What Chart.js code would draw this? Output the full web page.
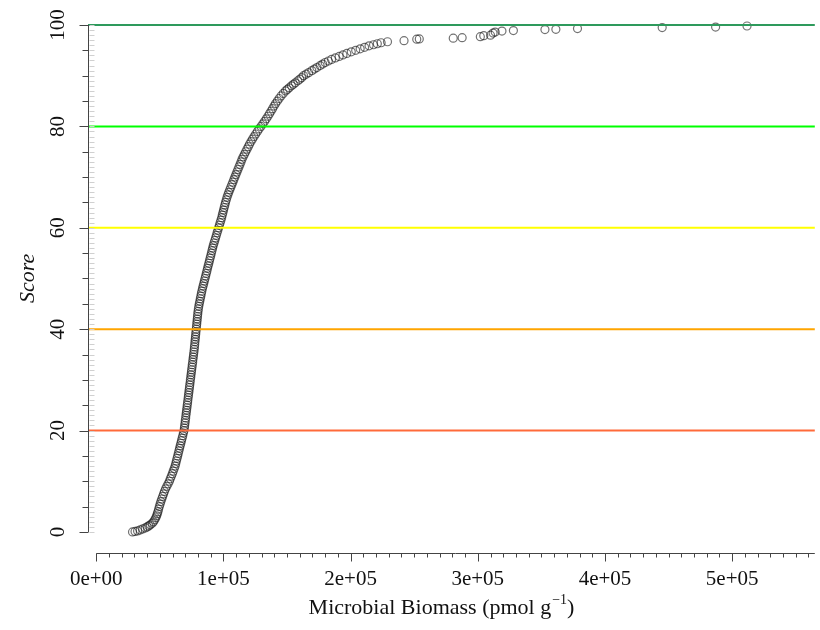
<!DOCTYPE html>
<html>
<head>
<meta charset="utf-8">
<script src="https://cdn.jsdelivr.net/npm/chart.js@4.4.1/dist/chart.umd.min.js"></script>
<style>
  html, body { margin: 0; padding: 0; background: #fff; }
  canvas { display: block; }
</style>
</head>
<body>
<canvas id="scoreChart" width="820" height="630"></canvas>
<script>
// Score curve (biomass in pmol g-1, score 0-100)
const scores = [
  0.0, 0.1, 0.2, 0.4, 0.6, 0.8, 1.0, 1.2, 1.4, 1.7, 2.0, 2.4, 2.8, 3.2, 3.6, 4.0,
  4.5, 5.0, 5.5, 6.0, 6.5, 7.0, 7.5, 8.0, 8.5, 9.0, 9.5, 10.0, 10.5, 11.0, 11.5, 12.0,
  12.5, 13.0, 13.5, 14.0, 14.5, 15.0, 15.5, 16.0, 16.5, 17.0, 17.5, 18.0, 18.5, 19.0, 19.5, 20.0,
  20.5, 21.0, 21.5, 22.0, 22.5, 23.0, 23.5, 24.0, 24.5, 25.0, 25.5, 26.0, 26.5, 27.0, 27.5, 28.0,
  28.5, 29.0, 29.5, 30.0, 30.5, 31.0, 31.5, 32.0, 32.5, 33.0, 33.5, 34.0, 34.5, 35.0, 35.5, 36.0,
  36.5, 37.0, 37.5, 38.0, 38.5, 39.0, 39.5, 40.0, 40.5, 41.0, 41.5, 42.0, 42.5, 43.0, 43.5, 44.0,
  44.5, 45.0, 45.5, 46.0, 46.5, 47.0, 47.5, 48.0, 48.5, 49.0, 49.5, 50.0, 50.5, 51.0, 51.5, 52.0,
  52.5, 53.0, 53.5, 54.0, 54.5, 55.0, 55.5, 56.0, 56.5, 57.0, 57.5, 58.0, 58.5, 59.0, 59.5, 60.0,
  60.5, 61.0, 61.5, 62.0, 62.5, 63.0, 63.5, 64.0, 64.5, 65.0, 65.5, 66.0, 66.5, 67.0, 67.5, 68.0,
  68.5, 69.0, 69.5, 70.0, 70.5, 71.0, 71.5, 72.0, 72.5, 73.0, 73.5, 74.0, 74.5, 75.0, 75.5, 76.0,
  76.5, 77.0, 77.5, 78.0, 78.5, 79.0, 79.5, 80.0,
  80.5, 81.0, 81.5, 82.0, 82.5, 83.0, 83.5, 84.0, 84.5, 85.0, 85.5, 86.0, 86.5, 87.0, 87.3, 87.6,
  88.0, 88.3, 88.6, 89.0, 89.3, 89.6, 90.0, 90.3, 90.6, 91.0, 91.3, 91.6, 92.0, 92.3, 92.6, 92.9,
  93.2, 93.5, 93.8, 94.1, 94.4, 94.7, 95.0, 95.3, 95.6, 95.9, 96.1, 96.3, 96.5, 96.7, 96.9, 97.2, 97.25,
  97.4, 97.5, 97.7, 97.9, 98.0, 98.4, 98.6, 98.8, 98.9, 99.1, 99.15, 99.3, 99.5, 99.6, 99.8
];
const biomass = [
  28500, 30500, 32500, 34500, 36500, 38500, 40000, 41300, 42500, 44000, 45000, 46000, 46800, 47500, 48000, 48500,
  49000, 49600, 50200, 50800, 51500, 52200, 52900, 53600, 54500, 55500, 56500, 57500, 58200, 59000, 59800, 60500,
  61300, 62000, 62500, 63000, 63500, 64000, 64500, 65000, 65500, 66000, 66500, 67000, 67500, 68000, 68500, 69000,
  69300, 69500, 69800, 70000, 70300, 70500, 70800, 71000, 71300, 71500, 71800, 72000, 72300, 72500, 72800, 73000,
  73300, 73500, 73800, 74000, 74300, 74500, 74800, 75000, 75300, 75500, 75800, 76000, 76300, 76500, 76800, 77000,
  77200, 77400, 77600, 77800, 78000, 78200, 78400, 78600, 78800, 79000, 79200, 79400, 79600, 79800, 80000, 80300,
  80600, 81000, 81400, 81800, 82200, 82600, 83000, 83500, 84000, 84500, 85000, 85500, 86000, 86500, 87000, 87500,
  88000, 88500, 89000, 89500, 90000, 90500, 91000, 91500, 92000, 92600, 93200, 93800, 94400, 95000, 95600, 96200,
  96800, 97400, 98000, 98600, 99100, 99600, 100100, 100600, 101100, 101600, 102200, 102800, 103500, 104200, 105000, 105800,
  106600, 107400, 108200, 109000, 109800, 110600, 111400, 112200, 113000, 113800, 114600, 115500, 116500, 117500, 118500, 119500,
  120500, 121700, 122900, 124100, 125400, 126700, 128000, 129500,
  131000, 132400, 133700, 135000, 136200, 137400, 138600, 139800, 141000, 142400, 143800, 145300, 147000, 148800, 150200, 151700,
  153500, 155000, 156500, 158500, 160000, 161500, 163000, 165000, 167000, 169500, 171500, 173500, 176000, 178000, 180000, 182500,
  185000, 188000, 191000, 194000, 197000, 200500, 204000, 207500, 211000, 214500, 218000, 221000, 224000, 229000, 242000, 252000, 254000,
  280700, 287700, 302000, 304700, 310000, 312000, 313700, 319000, 328000, 352800, 361400, 378400, 445000, 487000, 511700
];

// score class boundaries and their colours
const thresholds = [20, 40, 60, 80, 100];
const thresholdColors = ['#ff6a3a', '#ffa500', '#ffff00', '#00ff00', '#2e9a5c'];

// axis ticks
const xLabelValues = [0, 100000, 200000, 300000, 400000, 500000];
const xLabels = ['0e+00', '1e+05', '2e+05', '3e+05', '4e+05', '5e+05'];
const yLabelValues = [0, 20, 40, 60, 80, 100];
const yLabels = ['0', '20', '40', '60', '80', '100'];

const X_MIN = -6500, X_MAX = 565000;
const Y_MIN = -4.15, Y_MAX = 100;
const SERIF = '"Liberation Serif", "DejaVu Serif", serif';

const points = biomass.map((b, i) => ({ x: b, y: scores[i] }));

const lineSets = thresholds.map((t, i) => ({
  type: 'line',
  data: [{ x: X_MIN, y: t }, { x: X_MAX, y: t }],
  borderColor: thresholdColors[i],
  borderWidth: 2,
  pointRadius: 0,
  order: 0,
  clip: false
}));

// R style axes drawn from the chart's own scales
const rAxes = {
  id: 'rAxes',
  afterDraw(chart) {
    const ctx = chart.ctx;
    const xs = chart.scales.x, ys = chart.scales.y;
    const area = chart.chartArea;
    ctx.save();

    // y axis
    const ax = Math.round(area.left) + 0.5;
    ctx.strokeStyle = '#444';
    ctx.lineWidth = 1;
    ctx.beginPath();
    ctx.moveTo(ax, ys.getPixelForValue(0));
    ctx.lineTo(ax, ys.getPixelForValue(100));
    ctx.stroke();
    for (let v = 0; v <= 100; v += 5) {
      const py = Math.round(ys.getPixelForValue(v)) + 0.5;
      const len = v % 20 === 0 ? 9 : 6;
      ctx.beginPath();
      ctx.moveTo(ax - len, py);
      ctx.lineTo(ax, py);
      ctx.stroke();
    }
    ctx.strokeStyle = '#d0d0d0';
    for (let v = 0; v <= 100; v += 1) {
      const py = Math.round(ys.getPixelForValue(v)) + 0.5;
      ctx.beginPath();
      ctx.moveTo(ax + 1, py);
      ctx.lineTo(ax + 6, py);
      ctx.stroke();
    }

    // x axis
    const ay = Math.round(area.bottom) + 0.5;
    ctx.strokeStyle = '#444';
    ctx.beginPath();
    ctx.moveTo(xs.getPixelForValue(0), ay);
    ctx.lineTo(area.right, ay);
    ctx.stroke();
    for (let v = 0; v <= 560000; v += 10000) {
      const px = Math.round(xs.getPixelForValue(v)) + 0.5;
      const len = v % 100000 === 0 ? 8 : 4;
      ctx.beginPath();
      ctx.moveTo(px, ay);
      ctx.lineTo(px, ay + len);
      ctx.stroke();
    }

    // tick labels
    ctx.fillStyle = '#111';
    ctx.font = '21px ' + SERIF;
    ctx.textAlign = 'center';
    ctx.textBaseline = 'middle';
    xLabelValues.forEach((v, i) => {
      ctx.fillText(xLabels[i], xs.getPixelForValue(v), 579);
    });
    yLabelValues.forEach((v, i) => {
      ctx.save();
      ctx.translate(58, ys.getPixelForValue(v));
      ctx.rotate(-Math.PI / 2);
      ctx.fillText(yLabels[i], 0, 0);
      ctx.restore();
    });

    // x title with superscript
    const main = 'Microbial Biomass (pmol g';
    const sup = '\u22121';
    const tail = ')';
    ctx.font = '22px ' + SERIF;
    const wMain = ctx.measureText(main).width;
    const wTail = ctx.measureText(tail).width;
    ctx.font = '14px ' + SERIF;
    const wSup = ctx.measureText(sup).width;
    let tx = 441 - (wMain + wSup + wTail) / 2;
    ctx.textAlign = 'left';
    ctx.textBaseline = 'alphabetic';
    ctx.font = '22px ' + SERIF;
    ctx.fillText(main, tx, 614);
    tx += wMain;
    ctx.font = '14px ' + SERIF;
    ctx.fillText(sup, tx + 1, 604);
    tx += wSup + 1;
    ctx.font = '22px ' + SERIF;
    ctx.fillText(tail, tx, 614);

    // y title
    ctx.save();
    ctx.translate(28, ys.getPixelForValue(50));
    ctx.rotate(-Math.PI / 2);
    ctx.textAlign = 'center';
    ctx.textBaseline = 'middle';
    ctx.font = 'italic 22px ' + SERIF;
    ctx.fillText('Score', 0, 0);
    ctx.restore();

    ctx.restore();
  }
};

const ctx = document.getElementById('scoreChart').getContext('2d');
const scoreChart = new Chart(ctx, {
  type: 'scatter',
  data: {
    datasets: [
      ...lineSets,
      {
        type: 'scatter',
        data: points,
        pointStyle: 'circle',
        pointRadius: 4,
        pointBorderWidth: 1.2,
        pointBorderColor: 'rgba(20, 20, 20, 0.6)',
        pointBackgroundColor: 'rgba(0, 0, 0, 0)',
        order: 1,
        clip: false
      }
    ]
  },
  options: {
    responsive: false,
    animation: false,
    devicePixelRatio: 1,
    layout: { padding: { left: 88, right: 0, top: 25, bottom: 77 } },
    plugins: { legend: { display: false }, tooltip: { enabled: false } },
    scales: {
      x: { type: 'linear', min: X_MIN, max: X_MAX, display: false },
      y: { type: 'linear', min: Y_MIN, max: Y_MAX, display: false }
    }
  },
  plugins: [rAxes]
});
</script>
</body>
</html>
